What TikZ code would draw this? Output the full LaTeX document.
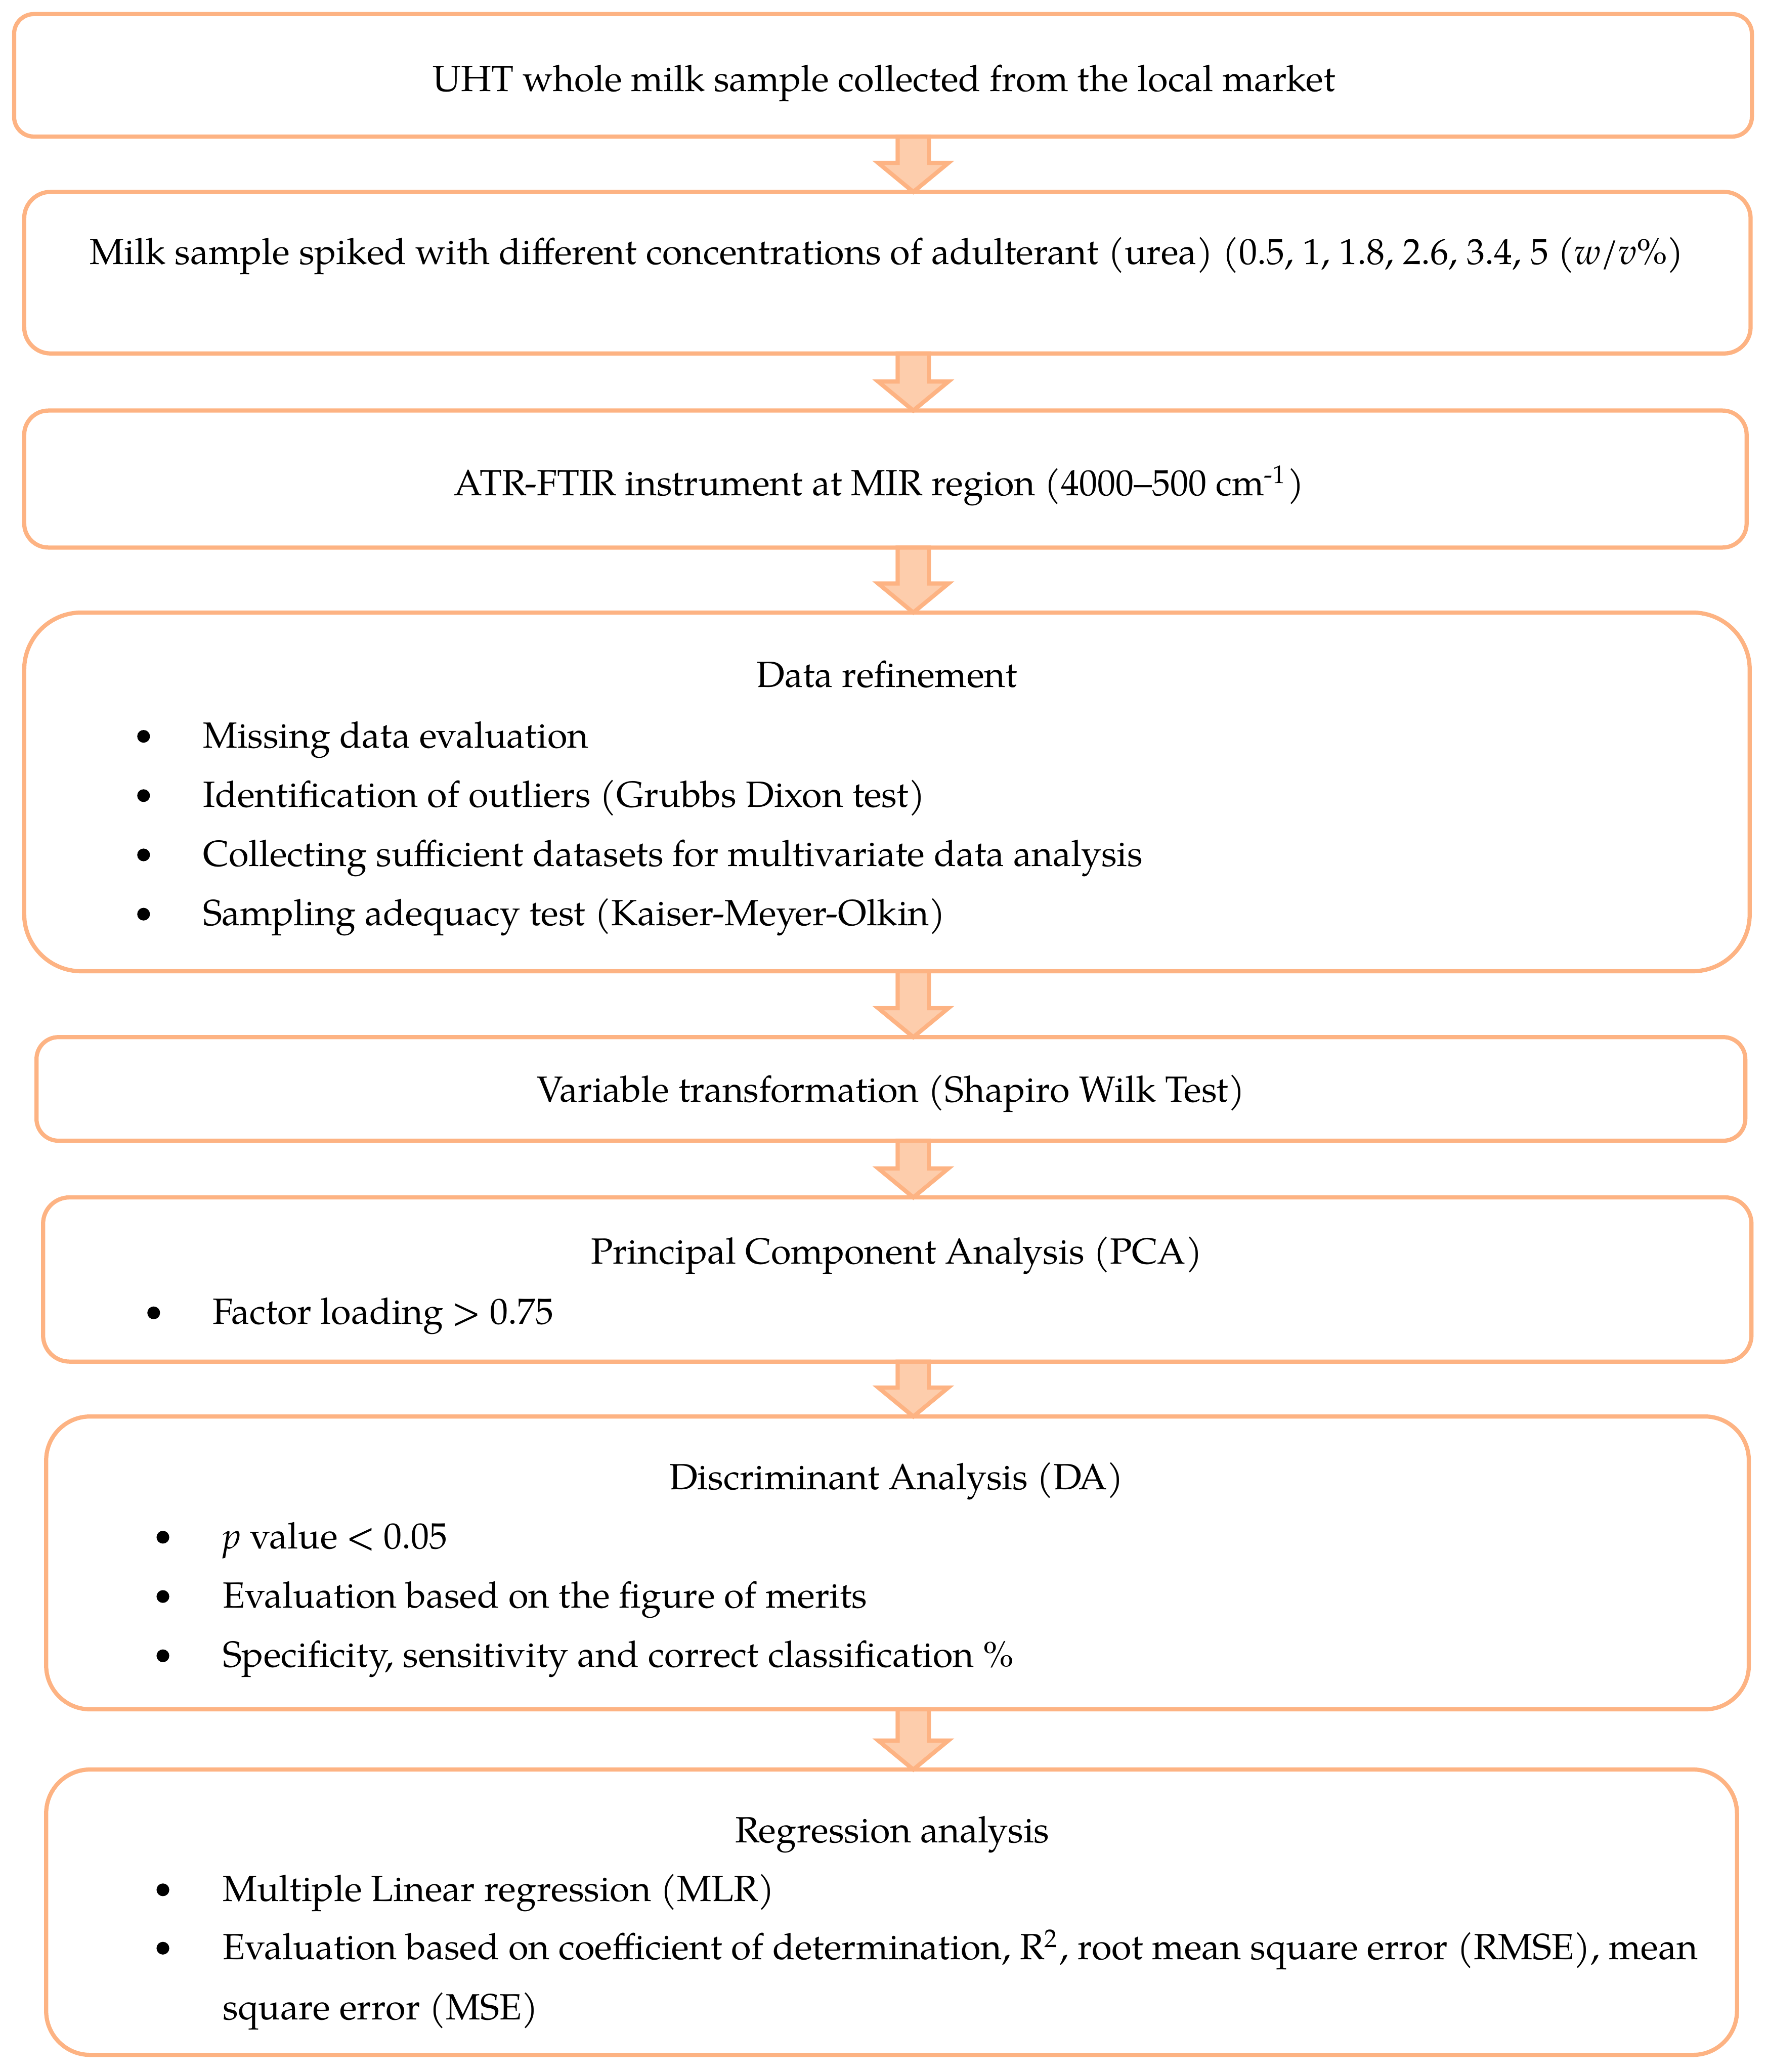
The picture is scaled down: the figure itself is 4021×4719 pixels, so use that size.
\documentclass[tikz,border=0pt]{standalone}
\usepackage{fontspec}
\setmainfont{TeX Gyre Pagella}
\usetikzlibrary{calc}
\definecolor{ora}{RGB}{253,179,131}
\definecolor{orafill}{RGB}{253,205,172}
\tikzset{
  box/.style={draw=ora, line width=0.95pt, shape=rectangle, inner sep=0pt, outer sep=0pt},
  txt/.style={inner sep=0pt, font=\fontsize{8.3pt}{13.3pt}\selectfont, anchor=base},
  itm/.style={txt, anchor=base west},
  bul/.style={circle, fill=black, inner sep=0pt, minimum size=2.9pt},
  blockarrow/.style={draw=ora, fill=orafill, line width=0.95pt, line join=miter},
}
\newcommand\flowarrow[2]{%
  \draw[blockarrow] let \p1=(ax |- #1.south), \p2=(ax |- #2.north) in
    (\x1-3.55pt,\y1) -- (\x1-3.55pt,\y2+6.6pt) -- (\x1-8pt,\y2+6.6pt) -- (\x1,\y2)
    -- (\x1+8pt,\y2+6.6pt) -- (\x1+3.55pt,\y2+6.6pt) -- (\x1+3.55pt,\y1) -- cycle;}
\begin{document}
\begin{tikzpicture}[x=0.1pt,y=-0.1pt]
\useasboundingbox (0,0) rectangle (4021,4719);
\coordinate (ax) at (2080,0);
% boxes
\node[box, rounded corners=4.5pt, minimum width=395.8pt, minimum height=27.9pt] (b1) at (2011,171.5) {};
\node[box, rounded corners=6pt,   minimum width=393.2pt, minimum height=36.8pt] (b2) at (2021,621) {};
\node[box, rounded corners=5.5pt, minimum width=392.3pt, minimum height=31.2pt] (b3) at (2016.5,1091) {};
\node[box, rounded corners=13pt,  minimum width=393.0pt, minimum height=81.7pt] (b4) at (2020,1803.5) {};
\node[box, rounded corners=5pt,   minimum width=389.2pt, minimum height=23.6pt] (b5) at (2029,2480) {};
\node[box, rounded corners=6pt,   minimum width=389.1pt, minimum height=37.4pt] (b6) at (2043.5,2914) {};
\node[box, rounded corners=10pt,  minimum width=387.8pt, minimum height=66.7pt] (b7) at (2044,3559.5) {};
\node[box, rounded corners=10pt,  minimum width=385.1pt, minimum height=65.0pt] (b8) at (2030.5,4355) {};
% arrows
\flowarrow{b1}{b2}
\flowarrow{b2}{b3}
\flowarrow{b3}{b4}
\flowarrow{b4}{b5}
\flowarrow{b5}{b6}
\flowarrow{b6}{b7}
\flowarrow{b7}{b8}
% texts
\node[txt] (t1) at (2013,208) {UHT whole milk sample collected from the local market};
\node[txt] (t2) at (2020,602) {Milk sample spiked with different concentrations of adulterant (urea) (0.5, 1, 1.8, 2.6, 3.4, 5 (\textit{w}/\textit{v}\%)};
\node[txt] (t3) at (2002,1129) {ATR-FTIR instrument at MIR region (4000–500 cm\textsuperscript{-1})};
\node[txt] (t4) at (2020,1565) {Data refinement};
\node[bul] (d1) at (327,1677) {};
\node[itm] (i1) at (460,1703) {Missing data evaluation};
\node[bul] (d2) at (327,1812) {};
\node[itm] (i2) at (460,1838) {Identification of outliers (Grubbs Dixon test)};
\node[bul] (d3) at (327,1947) {};
\node[itm] (i3) at (460,1973) {Collecting sufficient datasets for multivariate data analysis};
\node[bul] (d4) at (327,2082) {};
\node[itm] (i4) at (460,2108) {Sampling adequacy test (Kaiser-Meyer-Olkin)};
\node[txt] (t5) at (2029,2510) {Variable transformation (Shapiro Wilk Test)};
\node[txt] (t6) at (2042,2878) {Principal Component Analysis (PCA)};
\node[bul] (d5) at (350,2990) {};
\node[itm] (i5) at (482,3016) {Factor loading > 0.75};
\node[txt] (t7) at (2042,3392) {Discriminant Analysis (DA)};
\node[bul] (d6) at (371,3501) {};
\node[itm] (i6) at (505,3527) {\textit{p} value < 0.05};
\node[bul] (d7) at (371,3636) {};
\node[itm] (i7) at (505,3662) {Evaluation based on the figure of merits};
\node[bul] (d8) at (371,3771) {};
\node[itm] (i8) at (505,3797) {Specificity, sensitivity and correct classification \%};
\node[txt] (t8) at (2032,4196) {Regression analysis};
\node[bul] (d9) at (371,4304) {};
\node[itm] (i9) at (505,4330) {Multiple Linear regression (MLR)};
\node[bul] (d10) at (371,4437) {};
\node[itm] (i10) at (505,4463) {Evaluation based on coefficient of determination, R\textsuperscript{2}, root mean square error (RMSE), mean};
\node[itm] (i11) at (505,4600) {square error (MSE)};
\end{tikzpicture}
\end{document}
